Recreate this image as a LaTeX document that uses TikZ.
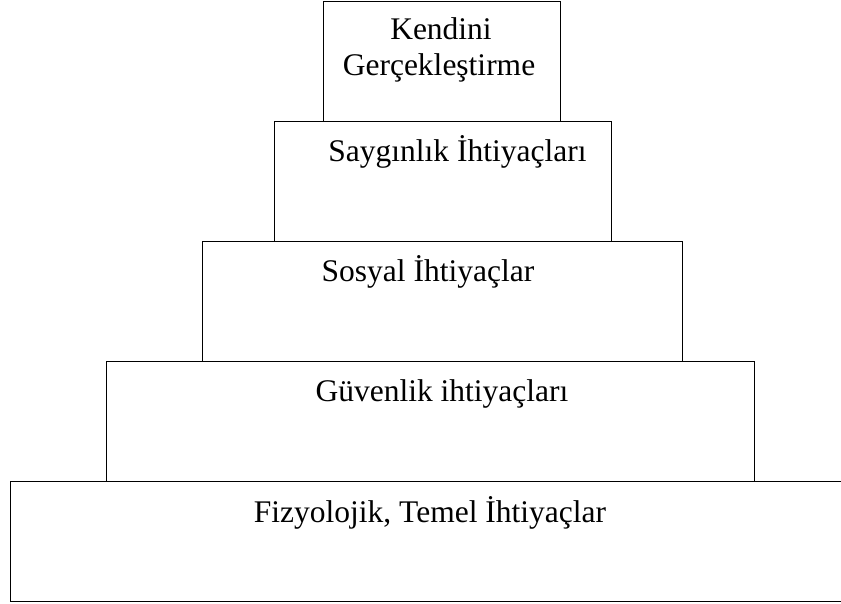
\documentclass[tikz,border=0pt]{standalone}
\usepackage{fontspec}
\setmainfont{Liberation Serif}
\usetikzlibrary{positioning}

\tikzset{
    level/.style={draw=black, line width=1.2pt, inner sep=0pt, anchor=north west},
    lbl/.style={anchor=base, inner sep=0pt, font=\fontsize{31.5}{36}\selectfont}
}

\begin{document}
\begin{tikzpicture}[x=1pt, y=-1pt]
    \useasboundingbox (0,0) rectangle (841,604);
    \clip (0,0) rectangle (841,604);

    % pyramid levels, bottom one runs past the right edge
    \node[level, minimum width=860pt, minimum height=120pt] (fizyo) at (10,481) {};
    \node[level, minimum width=648pt, minimum height=120pt] (guven) at (106,361) {};
    \node[level, minimum width=479.7pt, minimum height=120pt] (sosyal) at (202,240.7) {};
    \node[level, minimum width=336.7pt, minimum height=120pt] (saygi) at (274,120.7) {};
    \node[level, minimum width=237.3pt, minimum height=119.7pt] (kendi) at (322.7,1) {};

    % labels
    \node[lbl] (kendiA) at (441,40) {Kendini};
    \node[lbl] (kendiB) at (439,76) {Gerçekleştirme};
    \node[lbl] (saygiT) at (457.5,161.5) {Saygınlık İhtiyaçları};
    \node[lbl] (sosyalT) at (428,281.5) {Sosyal İhtiyaçlar};
    \node[lbl] (guvenT) at (442,401.5) {Güvenlik ihtiyaçları};
    \node[lbl] (fizyoT) at (430,522) {Fizyolojik, Temel İhtiyaçlar};
\end{tikzpicture}
\end{document}
